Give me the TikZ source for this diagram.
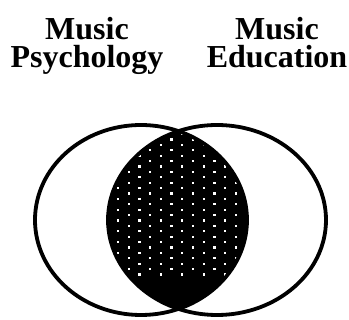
\documentclass[tikz,border=0pt]{standalone}
\usepackage{fontspec}
\setmainfont{Liberation Serif}
\begin{document}
\begin{tikzpicture}[x=1pt,y=-1pt,
  title/.style={font=\fontsize{32}{28}\selectfont\bfseries, align=center, anchor=north, inner sep=0pt},
  ring/.style={line width=3.8pt, draw=black},
  dot/.style={fill=white, draw=none}]
\useasboundingbox (0,0) rectangle (349,320);
\node[title] (left) at (87,17) {Music\\Psychology};
\node[title] (right) at (277,17) {Music\\Education};
\begin{scope}
  \clip (141,220) ellipse [x radius=106, y radius=95];
  \fill[black] (217,220) ellipse [x radius=109, y radius=95];
  \clip (217,220) ellipse [x radius=109, y radius=95];
  \foreach \i in {-6,...,6} {
    \foreach \j in {-10,...,10} {
      \fill[dot] ({149+21.4*\i},{160+10.8*\j}) rectangle ++(2.3,2.3);
      \fill[dot] ({159.7+21.4*\i},{165.4+10.8*\j}) rectangle ++(2.3,2.3);
    }
  }
\end{scope}
\draw[ring] (141,220) ellipse [x radius=106, y radius=95];
\draw[ring] (217,220) ellipse [x radius=109, y radius=95];
\end{tikzpicture}
\end{document}
